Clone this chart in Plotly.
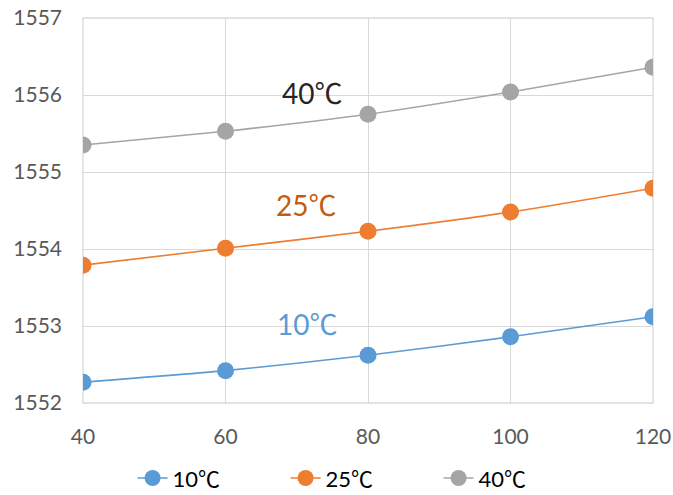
import plotly.graph_objects as go

x_vals = [40, 60, 80, 100, 120]
series_names = ["10℃", "25℃", "40℃"]
y_10 = [1552.27, 1552.42, 1552.62, 1552.86, 1553.12]
y_25 = [1553.79, 1554.01, 1554.23, 1554.48, 1554.79]
y_40 = [1555.35, 1555.53, 1555.75, 1556.04, 1556.36]
colors = ["#5B9BD5", "#ED7D31", "#A5A5A5"]
label_colors = ["#5B9BD5", "#C55A11", "#262626"]
label_x = [71.5, 71.3, 72.2]
label_y = [1553.04, 1554.59, 1556.04]
label_order = [0, 1, 2]
y_ticks = [1552, 1553, 1554, 1555, 1556, 1557]
x_ticks = [40, 60, 80, 100, 120]

FONT = "Lato, 'Noto Sans CJK SC', sans-serif"


def cjk_deg(s):
    return s.replace("℃", "<span style=\"font-family:'Noto Sans CJK SC'\">℃</span>")


fig = go.Figure()
for name, ys, c in zip(series_names, [y_10, y_25, y_40], colors):
    fig.add_trace(go.Scatter(
        x=x_vals, y=ys, name=cjk_deg(name), mode="lines+markers",
        line=dict(color=c, width=1.6, shape="spline", smoothing=0.6),
        marker=dict(color=c, size=17, line=dict(width=0)),
    ))

for i in label_order:
    fig.add_annotation(x=label_x[i], y=label_y[i], text=cjk_deg(series_names[i]),
                       showarrow=False,
                       font=dict(size=28, color=label_colors[i], family=FONT))

axis_common = dict(showgrid=True, gridcolor="#D9D9D9", gridwidth=1.3,
                   zeroline=False, showline=False, ticks="", automargin=False,
                   tickfont=dict(size=21, color="#595959", family=FONT))

fig.update_xaxes(range=[40, 120], tickvals=x_ticks, ticklabelstandoff=19,
                 **axis_common)
fig.update_yaxes(range=[1552, 1557], tickvals=y_ticks, ticklabelstandoff=20,
                 **axis_common)

fig.update_layout(
    width=673, height=495,
    margin=dict(l=83, r=20, t=18, b=92, autoexpand=False),
    paper_bgcolor="white", plot_bgcolor="white",
    font=dict(family=FONT),
    showlegend=True,
    legend=dict(orientation="h", xref="container", yref="container",
                x=0.197, xanchor="left", y=0.034, yanchor="middle",
                font=dict(size=22, color="#000000", family=FONT),
                entrywidth=108, entrywidthmode="pixels",
                traceorder="normal"),
)
fig.add_shape(type="rect", xref="paper", yref="paper", x0=0, y0=0, x1=1, y1=1,
              line=dict(color="#D9D9D9", width=1.3), layer="below")

fig.write_html("out.html", config={"displayModeBar": False},
               post_script="document.body.style.margin='0';document.body.style.overflow='hidden';")
